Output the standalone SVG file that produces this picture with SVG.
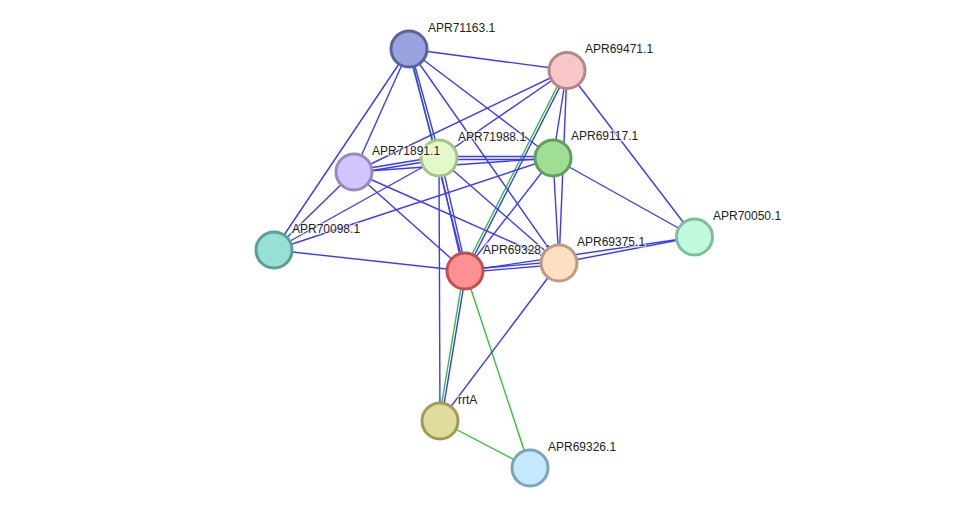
<svg xmlns="http://www.w3.org/2000/svg" width="976" height="514" viewBox="0 0 976 514">
<style>
.b{stroke:#3a3aff;stroke-width:1.4;fill:none}
.g{stroke:#33c133;stroke-width:1.4;fill:none}
.n{stroke-width:3}
text{font-family:"Liberation Sans",Arial,sans-serif;font-size:12px;fill:#222;stroke:#fff;stroke-width:2.5;stroke-opacity:0.6;paint-order:stroke}
</style>
<rect width="976" height="514" fill="#fff"/>
<g id="edges">
<line class="b" x1="409" y1="49" x2="567" y2="70"/>
<line class="g" x1="407.8" y1="49.3" x2="437.8" y2="158.3"/>
<line class="b" x1="410.2" y1="48.7" x2="440.2" y2="157.7"/>
<line class="b" x1="409" y1="49" x2="465" y2="271"/>
<line class="b" x1="409" y1="49" x2="553" y2="158"/>
<line class="b" x1="409" y1="49" x2="559" y2="263"/>
<line class="b" x1="409" y1="49" x2="354" y2="172"/>
<line class="b" x1="409" y1="49" x2="274" y2="250"/>
<line class="b" x1="567" y1="70" x2="354" y2="172"/>
<line class="b" x1="567" y1="70" x2="439" y2="158"/>
<line class="g" x1="565.9" y1="69.4" x2="463.9" y2="270.4"/>
<line class="b" x1="568.1" y1="70.6" x2="466.1" y2="271.6"/>
<line class="b" x1="567" y1="70" x2="553" y2="158"/>
<line class="b" x1="567" y1="70" x2="559" y2="263"/>
<line class="b" x1="567" y1="70" x2="694.5" y2="237"/>
<line class="b" x1="439" y1="156.5" x2="553" y2="156.5"/>
<line class="b" x1="439" y1="159.5" x2="553" y2="159.5"/>
<line class="b" x1="354.2" y1="170.5" x2="439.2" y2="156.5"/>
<line class="b" x1="353.8" y1="173.5" x2="438.8" y2="159.5"/>
<line class="b" x1="440.5" y1="157.7" x2="466.5" y2="270.7"/>
<line class="b" x1="437.5" y1="158.3" x2="463.5" y2="271.3"/>
<line class="b" x1="439" y1="158" x2="559" y2="263"/>
<line class="b" x1="439" y1="158" x2="440" y2="421"/>
<line class="b" x1="439" y1="158" x2="274" y2="250"/>
<line class="b" x1="553" y1="158" x2="354" y2="172"/>
<line class="b" x1="553" y1="158" x2="274" y2="250"/>
<line class="b" x1="553" y1="158" x2="465" y2="271"/>
<line class="b" x1="553" y1="158" x2="559" y2="263"/>
<line class="b" x1="553" y1="158" x2="694.5" y2="237"/>
<line class="b" x1="354" y1="172" x2="465" y2="271"/>
<line class="b" x1="354" y1="172" x2="559" y2="263"/>
<line class="b" x1="354" y1="172" x2="274" y2="250"/>
<line class="b" x1="274" y1="250" x2="465" y2="271"/>
<line class="b" x1="465.1" y1="269.5" x2="559.1" y2="261.5"/>
<line class="b" x1="464.9" y1="272.5" x2="558.9" y2="264.5"/>
<line class="b" x1="465" y1="271" x2="694.5" y2="237"/>
<line class="b" x1="559" y1="263" x2="694.5" y2="237"/>
<line class="g" x1="463.8" y1="270.8" x2="438.8" y2="420.8"/>
<line class="b" x1="466.2" y1="271.2" x2="441.2" y2="421.2"/>
<line class="g" x1="465" y1="271" x2="530" y2="468"/>
<line class="b" x1="559" y1="263" x2="440" y2="421"/>
<line class="g" x1="440" y1="421" x2="530" y2="468"/>
</g>
<g id="APR71163.1"><circle class="n" cx="409" cy="49" r="18" fill="#99a3e0" stroke="#5a6399"/><text x="428" y="32">APR71163.1</text></g>
<g id="APR69471.1"><circle class="n" cx="567" cy="70.5" r="18" fill="#f7c7c7" stroke="#b88585"/><text x="585" y="53">APR69471.1</text></g>
<g id="APR71988.1"><circle class="n" cx="439" cy="158" r="18" fill="#e1fac8" stroke="#a5c48a"/><text x="458" y="141">APR71988.1</text></g>
<g id="APR71891.1"><circle class="n" cx="354" cy="172" r="18" fill="#d3c4fb" stroke="#9a88c3"/><text x="372" y="155">APR71891.1</text></g>
<g id="APR69117.1"><circle class="n" cx="553" cy="158" r="18" fill="#9fde93" stroke="#5f9f57"/><text x="571" y="140">APR69117.1</text></g>
<g id="APR70098.1"><circle class="n" cx="274" cy="250" r="18" fill="#97e0d6" stroke="#5d9e95"/><text x="292" y="233">APR70098.1</text></g>
<g id="APR69328.1"><circle class="n" cx="465" cy="271" r="18" fill="#fd9191" stroke="#c05050"/><text x="483" y="254">APR69328.1</text></g>
<g id="APR69375.1"><circle class="n" cx="559" cy="263" r="18" fill="#fddfc1" stroke="#bd9c7e"/><text x="577" y="246">APR69375.1</text></g>
<g id="APR70050.1"><circle class="n" cx="694.5" cy="237" r="18" fill="#c0fbdb" stroke="#7fbe9b"/><text x="713" y="220">APR70050.1</text></g>
<g id="rrtA"><circle class="n" cx="440" cy="421" r="18" fill="#dfdc9c" stroke="#9f9b57"/><text x="458" y="404">rrtA</text></g>
<g id="APR69326.1"><circle class="n" cx="530" cy="468" r="18" fill="#c4e9fd" stroke="#7ba4bd"/><text x="548" y="451">APR69326.1</text></g>
</svg>
